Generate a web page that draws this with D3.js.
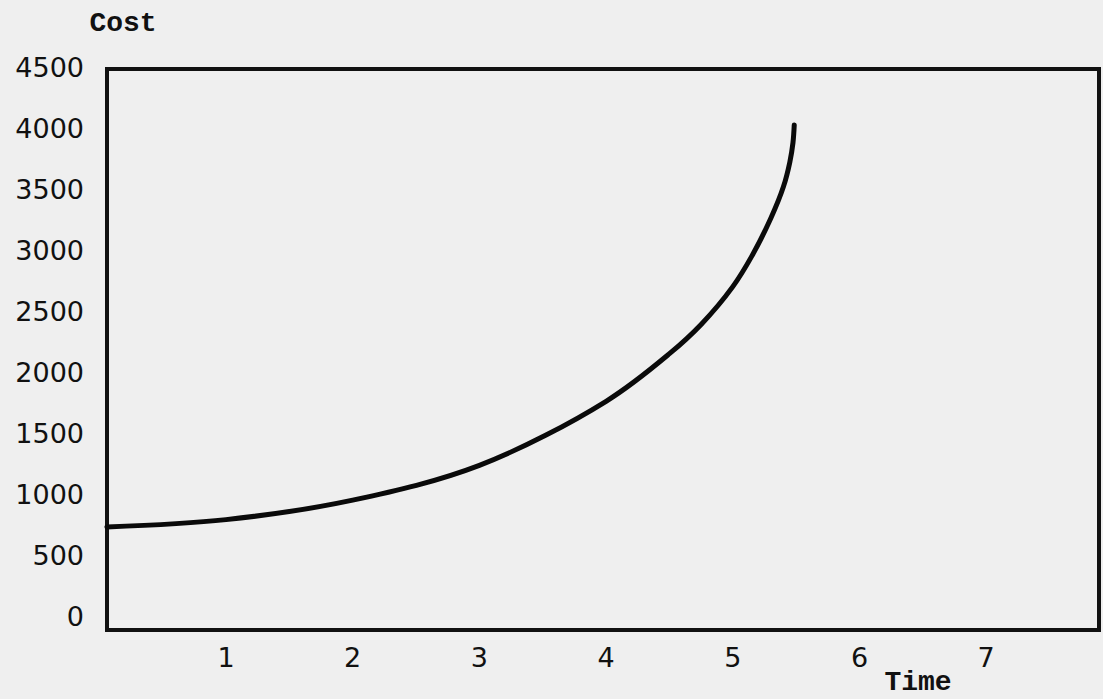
<!DOCTYPE html>
<html><head><meta charset="utf-8">
<script src="https://cdn.jsdelivr.net/npm/d3@7/dist/d3.min.js"></script>
<style>body{margin:0;background:#efefef;}svg{display:block;}</style>
</head><body>
<svg id="c" width="1103" height="699"></svg>
<script>
const timeValues = [0.06, 1.0, 2.0, 3.0, 4.0, 4.5, 4.75, 5.0, 5.15, 5.3, 5.4, 5.45, 5.475, 5.485];
const costValues = [730, 790, 950, 1235, 1760, 2150, 2390, 2700, 2950, 3260, 3520, 3720, 3880, 4025];
const xTickLabels = ["1", "2", "3", "4", "5", "6", "7"];
const yTickLabels = ["0", "500", "1000", "1500", "2000", "2500", "3000", "3500", "4000", "4500"];

const svg = d3.select("#c");
const plot = {left: 107, right: 1099, top: 69, bottom: 630};
const x = d3.scaleLinear().domain([0, 1]).range([99.3, 226]);
const y = d3.scaleLinear().domain([0, 4500]).range([616, 67]);

svg.append("rect").attr("width", 1103).attr("height", 699).attr("fill", "#efefef");

svg.append("rect")
  .attr("x", plot.left).attr("y", plot.top)
  .attr("width", plot.right - plot.left).attr("height", plot.bottom - plot.top)
  .attr("fill", "none").attr("stroke", "#111").attr("stroke-width", 4);

const numFont = "'DejaVu Sans', sans-serif";
svg.append("g").selectAll("text").data(yTickLabels).join("text")
  .attr("x", 84).attr("y", d => y(+d))
  .attr("text-anchor", "end").attr("dominant-baseline", "central")
  .attr("font-family", numFont).attr("font-size", 27).attr("fill", "#111")
  .text(d => d);

svg.append("g").selectAll("text").data(xTickLabels).join("text")
  .attr("x", d => x(+d)).attr("y", 657)
  .attr("text-anchor", "middle").attr("dominant-baseline", "central")
  .attr("font-family", numFont).attr("font-size", 27).attr("fill", "#111")
  .text(d => d);

svg.append("text").attr("x", 123).attr("y", 23)
  .attr("text-anchor", "middle").attr("dominant-baseline", "central")
  .attr("font-family", "'Liberation Mono', monospace").attr("font-weight", "bold")
  .attr("font-size", 28).attr("fill", "#111").text("Cost");

svg.append("text").attr("x", 918).attr("y", 682)
  .attr("text-anchor", "middle").attr("dominant-baseline", "central")
  .attr("font-family", "'Liberation Mono', monospace").attr("font-weight", "bold")
  .attr("font-size", 28).attr("fill", "#111").text("Time");

const pts = timeValues.map((t, i) => [t, costValues[i]]);
const line = d3.line().x(d => x(d[0])).y(d => y(d[1])).curve(d3.curveCatmullRom.alpha(0.5));
svg.append("path").attr("d", line(pts))
  .attr("fill", "none").attr("stroke", "#0a0a0a").attr("stroke-width", 5)
  .attr("stroke-linecap", "round");
</script>
</body></html>
